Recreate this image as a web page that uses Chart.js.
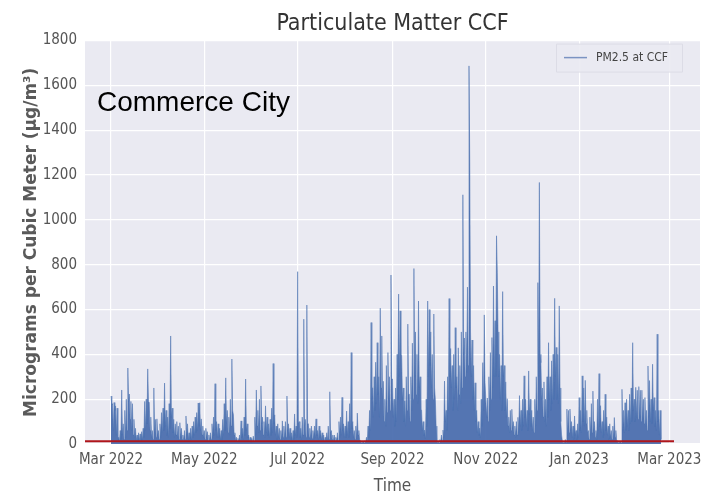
<!DOCTYPE html>
<html>
<head>
<meta charset="utf-8">
<script src="https://cdn.jsdelivr.net/npm/chart.js@4.4.1/dist/chart.umd.min.js"></script>
<style>
  html, body { margin: 0; padding: 0; background: #ffffff; }
  #wrap { width: 715px; height: 497px; position: relative; }
</style>
</head>
<body>
<div id="wrap"><canvas id="pmChart" width="715" height="497"></canvas></div>
<script>
// PM2.5 readings at CCF, two readings per day (morning, evening), one array per month
const pm_mar22 = [214,175, 180,60, 185,150, 170,40, 160,20, 30,10, 60,20, 241,40, 90,20, 150,30, 200,60, 339,190, 223,110, 190,60, 180,40, 110,30, 70,15, 40,10, 50,15, 45,10, 55,20, 70,30, 190,60, 200,90, 335,190, 185,60, 120,30, 60,20, 250,50, 110,30, 112,40];
const pm_apr22 = [60,20, 90,30, 140,50, 160,60, 272,80, 150,40, 120,30, 180,70, 482,120, 160,50, 110,30, 90,40, 100,30, 80,20, 95,30, 70,20, 40,10, 60,20, 125,40, 90,20, 50,10, 70,20, 80,30, 100,40, 120,50, 140,60, 183,80, 184,60, 112,40, 80,30];
const pm_may22 = [60,20, 70,30, 55,15, 40,10, 50,20, 90,30, 120,40, 269,60, 100,30, 90,30, 70,20, 60,20, 110,40, 180,60, 295,90, 150,50, 120,40, 200,80, 379,150, 130,40, 50,15, 30,10, 25,8, 40,15, 103,30, 70,20, 120,40, 290,60, 90,30, 40,10, 30,8];
const pm_jun22 = [25,8, 35,10, 120,40, 241,80, 150,50, 200,60, 259,90, 120,40, 100,30, 170,50, 120,40, 90,30, 110,40, 160,50, 359,90, 130,40, 80,20, 90,30, 70,20, 60,20, 103,30, 80,20, 100,30, 214,60, 90,30, 70,20, 50,15, 60,20, 134,40, 80,30];
const pm_jul22 = [769,90, 100,30, 70,20, 120,40, 557,80, 110,30, 620,90, 90,30, 70,20, 80,25, 60,20, 80,30, 112,40, 60,20, 80,30, 60,20, 50,15, 40,10, 30,10, 50,15, 80,20, 233,50, 60,20, 40,10, 40,15, 30,10, 50,15, 100,30, 120,40, 208,60, 90,30];
const pm_aug22 = [80,30, 147,40, 100,30, 180,50, 408,70, 100,30, 60,20, 80,25, 138,40, 60,20, 15,5, 10,5, 12,4, 15,5, 30,10, 80,30, 150,60, 542,200, 251,120, 300,150, 365,180, 452,220, 300,120, 606,250, 482,200, 280,100, 200,80, 350,140, 408,200, 300,150, 754,290];
const pm_sep22 = [290,120, 200,80, 250,100, 400,200, 669,300, 594,395, 395,200, 250,100, 192,80, 300,150, 535,222, 222,100, 300,150, 450,200, 783,300, 500,220, 400,180, 638,250, 300,151, 151,60, 100,40, 62,25, 200,80, 638,300, 600,350, 500,250, 400,200, 580,250, 200,80, 15,5];
const pm_oct22 = [10,5, 20,8, 40,15, 62,30, 281,100, 150,60, 300,150, 649,300, 426,250, 350,150, 400,200, 519,250, 300,150, 429,220, 350,180, 500,250, 1112,400, 473,300, 500,320, 700,350, 1687,1256, 500,300, 464,200, 350,150, 273,100, 150,50, 100,40, 71,30, 200,80, 363,150, 576,275];
const pm_nov22 = [275,120, 205,100, 300,150, 408,200, 475,250, 705,300, 550,300, 929,765, 500,300, 400,200, 350,150, 680,300, 350,150, 277,120, 202,80, 120,50, 150,60, 155,70, 100,40, 80,30, 100,40, 119,50, 216,80, 150,60, 200,80, 304,120, 200,80, 150,60, 326,130, 200,80];
const pm_dec22 = [150,60, 120,50, 200,80, 300,150, 720,300, 1167,400, 363,200, 250,120, 277,100, 200,80, 300,120, 452,200, 300,150, 371,180, 400,200, 650,300, 431,200, 400,180, 616,250, 100,40, 15,5, 10,5, 20,8, 156,40, 150,50, 156,60, 100,30, 80,20, 125,40, 60,20, 90,30];
const pm_jan23 = [207,60, 150,50, 304,100, 250,80, 284,90, 150,50, 60,20, 120,40, 180,50, 236,60, 100,30, 60,20, 200,60, 314,80, 171,50, 100,30, 150,40, 222,60, 120,40, 80,20, 90,30, 60,20, 80,25, 118,30, 60,15, 15,5, 10,4, 12,5, 244,60, 150,50, 184,60];
const pm_feb23 = [200,80, 150,60, 222,90, 250,100, 452,150, 200,100, 253,120, 240,110, 256,120, 240,100, 240,110, 200,90, 207,80, 150,60, 348,120, 283,100, 200,90, 356,150, 207,80, 150,60, 490,100, 150,40, 150,20];

// day offset (from 1 Mar 2022) of each month's first day
const monthStartDays = [0, 31, 61, 92, 122, 153, 184, 214, 245, 275, 306, 337];
const monthSeries = [pm_mar22, pm_apr22, pm_may22, pm_jun22, pm_jul22, pm_aug22, pm_sep22, pm_oct22, pm_nov22, pm_dec22, pm_jan23, pm_feb23];

// x axis ticks
const tickDays = [0, 61, 122, 184, 245, 306, 365];
const tickLabels = ['Mar 2022', 'May 2022', 'Jul 2022', 'Sep 2022', 'Nov 2022', 'Jan 2023', 'Mar 2023'];

// red reference line (start day, end day, level)
const refLineDays = [-17, 368];
const refLineLevel = 12;

const pmPoints = [];
monthSeries.forEach((arr, m) => {
    arr.forEach((v, i) => {
        pmPoints.push({ x: monthStartDays[m] + i / 2, y: v });
    });
});

const narrow = "'Liberation Sans Narrow', 'Arial Narrow', 'DejaVu Sans Condensed', sans-serif";

const plotBackground = {
    id: 'plotBackground',
    beforeDraw(chart) {
        const { ctx, chartArea } = chart;
        ctx.save();
        ctx.fillStyle = '#EAEAF2';
        ctx.fillRect(chartArea.left, chartArea.top, chartArea.right - chartArea.left, chartArea.bottom - chartArea.top);
        ctx.restore();
    }
};

// legend box in the upper right + place name
const overlayText = {
    id: 'overlayText',
    afterDraw(chart) {
        const ctx = chart.ctx;
        const a = chart.chartArea;
        ctx.save();
        // legend
        const bx = a.right - 144, by = a.top + 3, bw = 126, bh = 28;
        ctx.fillStyle = 'rgba(234,234,242,0.9)';
        ctx.strokeStyle = '#dcdce6';
        ctx.lineWidth = 1;
        ctx.beginPath();
        ctx.rect(bx + 0.5, by + 0.5, bw, bh);
        ctx.fill();
        ctx.stroke();
        ctx.strokeStyle = '#7b93c2';
        ctx.lineWidth = 1.5;
        ctx.beginPath();
        ctx.moveTo(bx + 8, by + 14);
        ctx.lineTo(bx + 31, by + 14);
        ctx.stroke();
        ctx.fillStyle = '#444';
        ctx.font = '12px ' + narrow;
        ctx.textBaseline = 'middle';
        ctx.fillText('PM2.5 at CCF', bx + 40, by + 14);
        // place name
        ctx.fillStyle = '#000';
        ctx.font = '28px "Liberation Sans", Arial, sans-serif';
        ctx.textBaseline = 'alphabetic';
        ctx.fillText('Commerce City', 97, 111);
        ctx.restore();
    }
};

const ctx = document.getElementById('pmChart').getContext('2d');

new Chart(ctx, {
    type: 'line',
    data: {
        datasets: [{
            label: 'PM2.5 at CCF',
            data: pmPoints,
            borderColor: 'rgba(76,114,176,0.55)',
            backgroundColor: 'rgba(70,106,172,0.92)',
            borderWidth: 1,
            pointRadius: 0,
            tension: 0,
            fill: 'origin',
            order: 1
        }, {
            label: 'reference',
            data: refLineDays.map(d => ({ x: d, y: refLineLevel })),
            borderColor: '#B0161B',
            borderWidth: 2,
            pointRadius: 0,
            fill: false,
            order: 0
        }]
    },
    options: {
        responsive: false,
        animation: false,
        layout: { padding: { left: 0, right: 15, top: 0, bottom: 0 } },
        plugins: {
            legend: { display: false },
            tooltip: { enabled: false },
            title: {
                display: true,
                fullSize: false,
                text: 'Particulate Matter CCF',
                color: '#333',
                font: { family: narrow, size: 23, weight: 'normal' },
                padding: { top: 10, bottom: 3 }
            }
        },
        scales: {
            x: {
                type: 'linear',
                min: -17,
                max: 385,
                afterBuildTicks: (scale) => {
                    scale.ticks = tickDays.map(v => ({ value: v }));
                },
                afterFit: (scale) => { scale.height = 53; },
                ticks: {
                    autoSkip: false,
                    maxRotation: 0,
                    padding: 7,
                    color: '#555',
                    font: { family: narrow, size: 15 },
                    callback: (value, index) => tickLabels[index]
                },
                grid: { color: '#ffffff', lineWidth: 1.2, drawTicks: false },
                border: { display: false },
                title: {
                    display: true,
                    text: 'Time',
                    color: '#555',
                    font: { family: narrow, size: 17 },
                    padding: { top: 2, bottom: 0 }
                }
            },
            y: {
                min: 0,
                max: 1800,
                afterFit: (scale) => { scale.width = 85; },
                ticks: {
                    stepSize: 200,
                    padding: 8,
                    color: '#555',
                    font: { family: narrow, size: 15 },
                    callback: (value) => String(value)
                },
                grid: { color: '#ffffff', lineWidth: 1.2, drawTicks: false },
                border: { display: false },
                title: {
                    display: true,
                    text: 'Micrograms per Cubic Meter (µg/m³)',
                    color: '#5a5a5a',
                    font: { family: "'DejaVu Sans', sans-serif", size: 17, weight: 'bold' },
                    padding: { top: 21, bottom: 0 }
                }
            }
        }
    },
    plugins: [plotBackground, overlayText]
});
</script>
</body>
</html>
